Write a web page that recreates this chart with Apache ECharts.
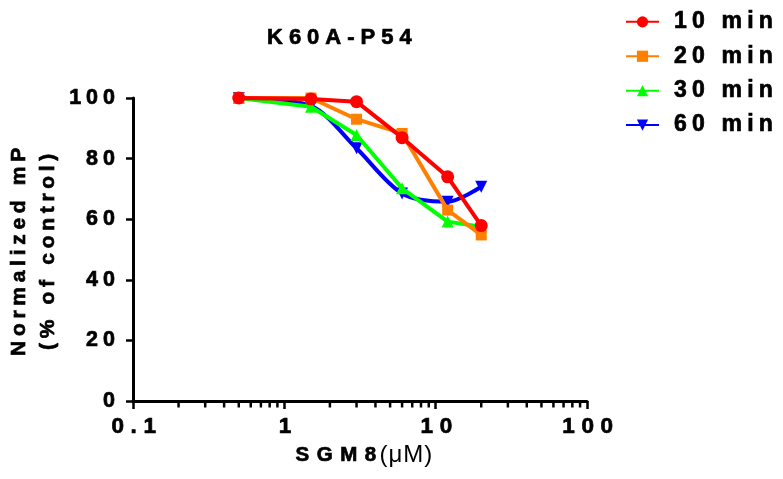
<!DOCTYPE html>
<html><head><meta charset="utf-8">
<script src="https://cdn.jsdelivr.net/npm/echarts@6/dist/echarts.min.js"></script>
<style>html,body{margin:0;padding:0;background:#fff}#c{width:783px;height:479px}</style>
</head><body><div id="c"></div>
<script>
// letter spacing per font size (bold text in the reference is widely tracked)
var SPACING_BOLD = {'22': 6.0, '22.5': 6.6, '23': 5.2, '21.5': 5.0, '21': 4.7, '20.5': 7.5};
(function(){
  var P = CanvasRenderingContext2D.prototype;
  function getLS(ctx){
    var f = ctx.font || '';
    var m = f.match(/(\d+(?:\.\d+)?)px/);
    var bold = /bold|[6-9]00/.test(f);
    var s = 0;
    if (bold && m && SPACING_BOLD[m[1]] != null) s = SPACING_BOLD[m[1]];
    else if (!bold && m) s = 1;
    return s;
  }
  function setLS(ctx){ var s = getLS(ctx); try { ctx.letterSpacing = s + 'px'; } catch(e){} return s; }
  var ft = P.fillText, mt = P.measureText, st = P.strokeText;
  P.fillText = function(){ setLS(this); return ft.apply(this, arguments); };
  P.strokeText = function(){ setLS(this); return st.apply(this, arguments); };
  P.measureText = function(){
    var s = setLS(this);
    var r = mt.apply(this, arguments);
    if (!s) return r;
    return {
      width: Math.max(0, r.width - s),
      actualBoundingBoxAscent: r.actualBoundingBoxAscent,
      actualBoundingBoxDescent: r.actualBoundingBoxDescent,
      actualBoundingBoxLeft: r.actualBoundingBoxLeft,
      actualBoundingBoxRight: r.actualBoundingBoxRight,
      fontBoundingBoxAscent: r.fontBoundingBoxAscent,
      fontBoundingBoxDescent: r.fontBoundingBoxDescent
    };
  };
})();

var concentrations = [0.5, 1.5, 3, 6, 12, 20];
var min10 = [100, 99.7, 98.8, 86.9, 74, 57.9];
var min20 = [100, 100, 93, 88.3, 63, 54.8];
var min30 = [100, 97.1, 87.8, 70.2, 59.2, 57.5];
var min60 = [100, 97.4, 83.4, 68.5, 65.8, 70.7];
var seriesNames = ['10 min', '20 min', '30 min', '60 min'];
var xMinorTicks = [0.2,0.3,0.4,0.5,0.6,0.7,0.8,0.9,2,3,4,5,6,7,8,9,20,30,40,50,60,70,80,90];

function pairs(ys){ return concentrations.map(function(x,i){ return [x, ys[i]]; }); }

var chart = echarts.init(document.getElementById('c'), null, {renderer: 'canvas'});
var FONT = 'Arial, "Liberation Sans", sans-serif';
function bold(size, extra){
  var o = {fontFamily: FONT, fontWeight: 'bold', fontSize: size, color: '#000',
    textBorderColor: '#000', textBorderWidth: 0.7};
  for (var k in extra) o[k] = extra[k];
  return o;
}
function lineSeries(name, data, color, symbol, size, extra){
  var s = {
    name: name, type: 'line', data: pairs(data),
    symbol: symbol, symbolSize: size, showSymbol: true,
    lineStyle: {color: color, width: 4},
    itemStyle: {color: color},
    emphasis: {disabled: true},
    animation: false
  };
  for (var k in extra) s[k] = extra[k];
  return s;
}
var option = {
  animation: false,
  backgroundColor: '#fff',
  title: {
    text: 'K60A-P54', left: 267, top: 27, padding: 0,
    textStyle: bold(22)
  },
  legend: {
    data: seriesNames, left: 625, top: 10, padding: 0, orient: 'vertical',
    itemWidth: 33, itemHeight: 14, itemGap: 10.7,
    textStyle: bold(23, {lineHeight: 22, padding: [0, 0, 0, 10]}),
    selectedMode: false
  },
  grid: {left: 133, right: 196, top: 98, bottom: 78, containLabel: false, outerBoundsMode: 'none'},
  xAxis: {
    type: 'log', logBase: 10, min: 0.1, max: 100,
    name: '{b|SGM8}{r|(μM)}', nameLocation: 'middle', nameGap: 38,
    nameTextStyle: {
      padding: [0,0,0,12],
      rich: {
        b: bold(20.5, {}),
        r: {fontFamily: FONT, fontWeight: 'normal', fontSize: 24, color: '#000'}
      }
    },
    axisLine: {show: true, onZero: false, lineStyle: {color: '#000', width: 3}},
    axisTick: {show: true, inside: false, length: 8, lineStyle: {color: '#000', width: 2.5}},
    axisLabel: Object.assign(bold(22.5), {margin: 14, padding: [0,0,0,8],
      formatter: function(v){ return String(v); }}),
    splitLine: {show: false}, minorTick: {show: false}, minorSplitLine: {show: false}
  },
  yAxis: {
    type: 'value', min: 0, max: 100, interval: 20,
    name: 'Normalized mP\n(% of control)', nameLocation: 'middle', nameRotate: 90, nameGap: 60,
    nameTextStyle: bold(21, {lineHeight: 29, padding: [0,0,0,0]}),
    axisLine: {show: true, lineStyle: {color: '#000', width: 3}},
    axisTick: {show: true, inside: false, length: 7, lineStyle: {color: '#000', width: 2.5}},
    axisLabel: Object.assign(bold(21.5), {margin: 13}),
    splitLine: {show: false}
  },
  series: [
    {
      type: 'custom', name: 'minorTicks', silent: true, clip: false, z: 1,
      data: xMinorTicks.map(function(v){ return [v, 0]; }),
      renderItem: function(params, api){
        var p = api.coord([api.value(0), 0]);
        return {type: 'line', shape: {x1: p[0], y1: p[1], x2: p[0], y2: p[1] + 6.5},
          style: {stroke: '#000', lineWidth: 2.5}};
      },
      animation: false
    },
    lineSeries('60 min', min60, '#0000ff', 'triangle', 12, {symbolRotate: 180, smooth: 0.3, z: 2}),
    lineSeries('30 min', min30, '#00ff00', 'triangle', 12, {z: 3}),
    lineSeries('20 min', min20, '#ff8000', 'rect', 11, {z: 4}),
    lineSeries('10 min', min10, '#ff0000', 'circle', 13, {z: 5})
  ]
};
chart.setOption(option);
</script>
</body></html>
